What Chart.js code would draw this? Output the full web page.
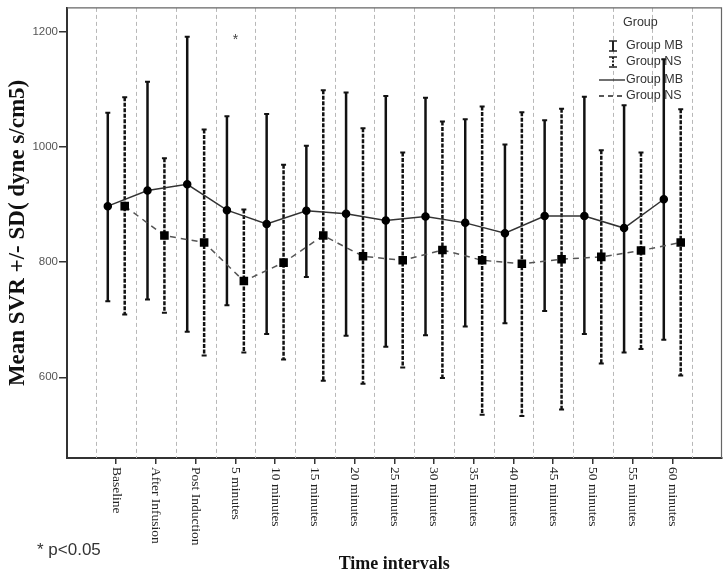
<!DOCTYPE html>
<html>
<head>
<meta charset="utf-8">
<script src="https://cdn.jsdelivr.net/npm/chart.js@4.4.1/dist/chart.umd.min.js"></script>
<style>
  html, body { margin: 0; padding: 0; background: #fff; }
  canvas { display: block; }
</style>
</head>
<body>
<canvas id="chart" width="728" height="576"></canvas>
<script>
const categories = ['Baseline', 'After Infusion', 'Post Induction', '5 minutes', '10 minutes', '15 minutes', '20 minutes',
  '25 minutes', '30 minutes', '35 minutes', '40 minutes', '45 minutes', '50 minutes', '55 minutes', '60 minutes'];

// Group MB: mean, mean + SD, mean - SD
const mbMean = [897, 924, 935, 890, 866, 889, 884, 872, 879, 868, 850, 880, 880, 859, 909];
const mbHigh = [1059, 1113, 1191, 1053, 1057, 1002, 1094, 1088, 1085, 1048, 1004, 1046, 1087, 1072, 1152];
const mbLow  = [732, 735, 679, 725, 675, 774, 672, 653, 673, 688, 694, 715, 675, 643, 665];

// Group NS
const nsMean = [897, 846, 834, 767, 799, 846, 810, 803, 821, 803, 797, 805, 809, 820, 834];
const nsHigh = [1086, 980, 1030, 891, 969, 1098, 1032, 990, 1044, 1070, 1060, 1066, 994, 990, 1065];
const nsLow  = [709, 712, 638, 643, 631, 594, 589, 617, 599, 535, 533, 544, 624, 649, 603];

const yTicks = [600, 800, 1000, 1200];
const starAt = { index: 3, value: 1190 };

const OFF = 0.213; // side-by-side shift of the two groups inside a time slot

// dashed separators between time slots
const slotLines = {
  id: 'slotLines',
  beforeDatasetsDraw(chart) {
    const { ctx, chartArea: a, scales: { x } } = chart;
    ctx.save();
    ctx.strokeStyle = '#b8b8b8';
    ctx.lineWidth = 1;
    ctx.setLineDash([4, 3]);
    for (let i = -1; i < categories.length; i++) {
      const px = Math.round(x.getPixelForValue(i + 0.5)) + 0.5;
      ctx.beginPath();
      ctx.moveTo(px, a.top);
      ctx.lineTo(px, a.bottom);
      ctx.stroke();
    }
    ctx.restore();
  }
};

// +/- SD bars
const errorBars = {
  id: 'errorBars',
  beforeDatasetsDraw(chart) {
    const { ctx, scales: { x, y } } = chart;
    chart.data.datasets.forEach((ds) => {
      ds.data.forEach((p, i) => {
        const px = x.getPixelForValue(p.x);
        const top = y.getPixelForValue(ds.high[i]);
        const bot = y.getPixelForValue(ds.low[i]);
        ctx.save();
        ctx.strokeStyle = '#111';
        ctx.lineWidth = 2.5;
        ctx.setLineDash(ds.barDash);
        ctx.beginPath();
        ctx.moveTo(px, top);
        ctx.lineTo(px, bot);
        ctx.stroke();
        ctx.setLineDash([]);
        ctx.lineWidth = 2;
        ctx.beginPath();
        ctx.moveTo(px - 2.5, top); ctx.lineTo(px + 2.5, top);
        ctx.moveTo(px - 2.5, bot); ctx.lineTo(px + 2.5, bot);
        ctx.stroke();
        ctx.restore();
      });
    });
  }
};

// frame, rotated tick labels, legend and notes
const extras = {
  id: 'extras',
  afterDraw(chart) {
    const { ctx, chartArea: a, scales: { x, y } } = chart;
    ctx.save();

    ctx.strokeStyle = '#666';
    ctx.lineWidth = 1.2;
    ctx.beginPath();
    ctx.moveTo(a.left, a.top);
    ctx.lineTo(a.right, a.top);
    ctx.lineTo(a.right, a.bottom);
    ctx.stroke();

    ctx.font = '13.5px "Liberation Serif"';
    ctx.fillStyle = '#222';
    ctx.textAlign = 'left';
    ctx.textBaseline = 'middle';
    categories.forEach((c, i) => {
      ctx.save();
      ctx.translate(x.getPixelForValue(i), a.bottom + 9);
      ctx.rotate(Math.PI / 2);
      ctx.fillText(c, 0, 0);
      ctx.restore();
    });

    ctx.font = '14px "Liberation Sans"';
    ctx.fillStyle = '#444';
    ctx.textAlign = 'center';
    ctx.fillText('*', x.getPixelForValue(starAt.index), y.getPixelForValue(starAt.value) + 3);

    ctx.textAlign = 'left';
    ctx.font = '17px "Liberation Sans"';
    ctx.fillStyle = '#333';
    ctx.fillText('* p<0.05', 37, 550);

    // legend
    const lx = 623;
    ctx.font = '12.5px "Liberation Sans"';
    ctx.fillStyle = '#333';
    ctx.fillText('Group', lx, 23);
    const rows = [
      { label: 'Group MB', kind: 'bar', dash: [] },
      { label: 'Group NS', kind: 'bar', dash: [2, 1.5] },
      { label: 'Group MB', kind: 'line', dash: [] },
      { label: 'Group NS', kind: 'line', dash: [5, 4] }
    ];
    const rowY = [46, 62, 80, 96];
    rows.forEach((r, k) => {
      const cy = rowY[k];
      ctx.save();
      ctx.strokeStyle = '#222';
      if (r.kind === 'bar') {
        ctx.lineWidth = 2;
        ctx.setLineDash(r.dash);
        ctx.beginPath();
        ctx.moveTo(613, cy - 5); ctx.lineTo(613, cy + 5);
        ctx.stroke();
        ctx.setLineDash([]);
        ctx.lineWidth = 1.5;
        ctx.beginPath();
        ctx.moveTo(609, cy - 5); ctx.lineTo(617, cy - 5);
        ctx.moveTo(609, cy + 5); ctx.lineTo(617, cy + 5);
        ctx.stroke();
      } else {
        ctx.lineWidth = 1.3;
        ctx.setLineDash(r.dash);
        ctx.beginPath();
        ctx.moveTo(599, cy); ctx.lineTo(625, cy);
        ctx.stroke();
      }
      ctx.restore();
      ctx.fillText(r.label, lx + 3, cy);
    });

    ctx.restore();
  }
};

new Chart(document.getElementById('chart'), {
  type: 'line',
  data: {
    datasets: [
      {
        label: 'Group MB',
        data: categories.map((c, i) => ({ x: i - OFF, y: mbMean[i] })),
        high: mbHigh,
        low: mbLow,
        barDash: [],
        borderColor: '#333',
        borderWidth: 1.5,
        pointStyle: 'circle',
        pointRadius: 3.5,
        pointBackgroundColor: '#000',
        pointBorderColor: '#000',
        tension: 0
      },
      {
        label: 'Group NS',
        data: categories.map((c, i) => ({ x: i + OFF, y: nsMean[i] })),
        high: nsHigh,
        low: nsLow,
        barDash: [4, 1.5],
        borderColor: '#555',
        borderWidth: 1.5,
        borderDash: [6, 5],
        pointStyle: 'rect',
        pointRadius: 5,
        pointBackgroundColor: '#000',
        pointBorderColor: '#000',
        tension: 0
      }
    ]
  },
  options: {
    responsive: false,
    animation: false,
    devicePixelRatio: 1,
    layout: { padding: { top: 7, right: 2, left: 0, bottom: 0 } },
    plugins: {
      legend: { display: false },
      tooltip: { enabled: false }
    },
    scales: {
      x: {
        type: 'linear',
        min: -1.24,
        max: 15.24,
        afterBuildTicks: (s) => { s.ticks = categories.map((c, i) => ({ value: i })); },
        afterFit: (s) => { s.height = 118; },
        ticks: { display: false },
        grid: { drawOnChartArea: false, drawTicks: true, tickLength: 6, color: '#333', lineWidth: 1.5 },
        border: { display: true, color: '#333', width: 2 },
        title: {
          display: true,
          text: 'Time intervals',
          color: '#111',
          font: { family: 'Liberation Serif', weight: 'bold', size: 18 },
          padding: { top: 0, bottom: 1 }
        }
      },
      y: {
        min: 460,
        max: 1241,
        afterBuildTicks: (s) => { s.ticks = yTicks.map((v) => ({ value: v })); },
        afterFit: (s) => { s.width = 67; },
        ticks: {
          color: '#555',
          padding: 1,
          font: { family: 'Liberation Sans', size: 11.5 },
          callback: (v) => String(v)
        },
        grid: { drawOnChartArea: false, tickLength: 8, color: '#333', lineWidth: 1.5 },
        border: { display: true, color: '#333', width: 2 },
        title: {
          display: true,
          text: 'Mean SVR +/- SD( dyne s/cm5)',
          color: '#111',
          font: { family: 'Liberation Serif', weight: 'bold', size: 23 },
          padding: { top: 4, bottom: 0 }
        }
      }
    }
  },
  plugins: [slotLines, errorBars, extras]
});
</script>
</body>
</html>
